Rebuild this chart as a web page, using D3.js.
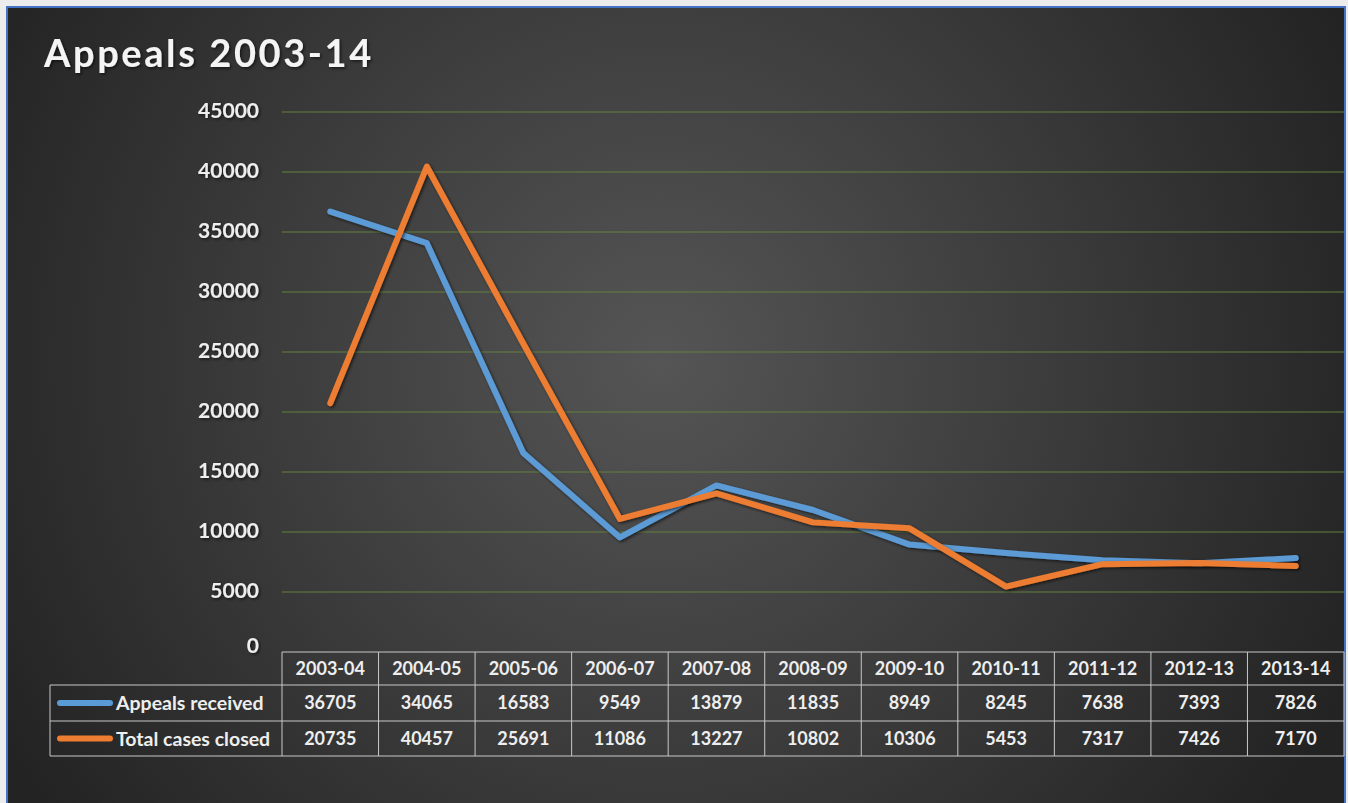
<!DOCTYPE html>
<html>
<head>
<meta charset="utf-8">
<script src="https://cdn.jsdelivr.net/npm/d3@7"></script>
<style>
  html, body { margin: 0; padding: 0; background: #ececec; }
  svg { display: block; }
</style>
</head>
<body>
<svg id="chart" width="1348" height="803"></svg>
<script>
const categories = ["2003-04","2004-05","2005-06","2006-07","2007-08","2008-09","2009-10","2010-11","2011-12","2012-13","2013-14"];
const appealsReceived = [36705,34065,16583,9549,13879,11835,8949,8245,7638,7393,7826];
const totalCasesClosed = [20735,40457,25691,11086,13227,10802,10306,5453,7317,7426,7170];
const yTicks = [0,5000,10000,15000,20000,25000,30000,35000,40000,45000];
const seriesNames = ["Appeals received","Total cases closed"];
const seriesColors = ["#5B9BD5","#ED7D31"];
const titleText = "Appeals 2003-14";

const series = [
  {name: seriesNames[0], values: appealsReceived, color: seriesColors[0]},
  {name: seriesNames[1], values: totalCasesClosed, color: seriesColors[1]}
];

const svg = d3.select("#chart");

const defs = svg.append("defs");
const grad = defs.append("radialGradient").attr("id","bg")
  .attr("gradientUnits","userSpaceOnUse")
  .attr("cx", 660).attr("cy", 360).attr("r", 760);
grad.append("stop").attr("offset","0%").attr("stop-color","#555555");
grad.append("stop").attr("offset","55%").attr("stop-color","#3a3a3a");
grad.append("stop").attr("offset","100%").attr("stop-color","#232323");

const shadow = defs.append("filter").attr("id","sh").attr("x","-10%").attr("y","-10%").attr("width","120%").attr("height","120%");
shadow.append("feDropShadow").attr("dx",1.5).attr("dy",1.5).attr("stdDeviation",1.5).attr("flood-color","#000").attr("flood-opacity",0.6);

// frame
svg.append("rect").attr("x",7).attr("y",7).attr("width",1338).attr("height",800)
  .attr("fill","url(#bg)").attr("stroke","#4472C4").attr("stroke-width",2);

// scales
const left = 282, right = 1344;
const x = d3.scaleBand().domain(categories).range([left, right]).padding(0);
const y = d3.scaleLinear().domain([0,45000]).range([652,112]);

// gridlines
svg.append("g").selectAll("line").data(yTicks.filter(d => d > 0)).join("line")
  .attr("x1", left).attr("x2", right)
  .attr("y1", d => y(d)).attr("y2", d => y(d))
  .attr("stroke","#62803f").attr("stroke-width",1);

// y axis labels
const yAxis = d3.axisLeft(y).tickValues(yTicks).tickSize(0).tickPadding(0).tickFormat(d3.format("d"));
const yg = svg.append("g").attr("transform","translate(259,0)").call(yAxis);
yg.select(".domain").remove();
yg.selectAll("text")
  .attr("fill","#eeeeee")
  .attr("font-family","Lato, 'Open Sans', sans-serif")
  .attr("font-weight","bold")
  .attr("font-size","21px")
  .attr("dy","0.25em")
  .attr("filter","url(#sh)");
yg.selectAll("text").filter(d => d === 0).attr("dy","0.0em");

// title
svg.append("text").attr("x",44).attr("y",67)
  .attr("fill","#f4f4f4")
  .attr("font-family","Lato, 'Open Sans', sans-serif")
  .attr("font-weight","bold")
  .attr("font-size","38px")
  .attr("letter-spacing","2.6px")
  .attr("filter","url(#sh)")
  .text(titleText);

// lines
const line = d3.line()
  .x((d,i) => x(categories[i]) + x.bandwidth()/2)
  .y(d => y(d));
svg.append("g").selectAll("path").data(series).join("path")
  .attr("d", d => line(d.values))
  .attr("fill","none")
  .attr("stroke", d => d.color)
  .attr("stroke-width",6)
  .attr("stroke-linejoin","round")
  .attr("stroke-linecap","round")
  .attr("filter","url(#sh)");

// data table
const rowTop = 652, rowH = [33, 36, 35];
const rows = [rowTop, rowTop + rowH[0], rowTop + rowH[0] + rowH[1], rowTop + rowH[0] + rowH[1] + rowH[2]];
const tableStroke = "#c8c8c8";
const tg = svg.append("g");
const legendLeft = 50;

tg.append("line").attr("x1",left).attr("x2",right).attr("y1",rows[0]).attr("y2",rows[0]).attr("stroke",tableStroke);
[1,2,3].forEach(i => tg.append("line").attr("x1",legendLeft).attr("x2",right).attr("y1",rows[i]).attr("y2",rows[i]).attr("stroke",tableStroke));
tg.append("line").attr("x1",legendLeft).attr("x2",legendLeft).attr("y1",rows[1]).attr("y2",rows[3]).attr("stroke",tableStroke);
categories.forEach(c => {
  tg.append("line").attr("x1",x(c)).attr("x2",x(c)).attr("y1",rows[0]).attr("y2",rows[3]).attr("stroke",tableStroke);
});
tg.append("line").attr("x1",right).attr("x2",right).attr("y1",rows[0]).attr("y2",rows[3]).attr("stroke",tableStroke);

const cellFont = "Lato, 'Open Sans', sans-serif";
tg.selectAll("text.hdr").data(categories).join("text").attr("class","hdr")
  .attr("x", d => x(d) + x.bandwidth()/2)
  .attr("y", (rows[0]+rows[1])/2)
  .attr("dy","0.36em")
  .attr("text-anchor","middle")
  .attr("fill","#eeeeee").attr("font-family",cellFont).attr("font-size","18px").attr("font-weight","bold")
  .text(d => d);

series.forEach((s, si) => {
  const cy = (rows[si+1] + rows[si+2]) / 2;
  tg.append("line").attr("x1",60).attr("x2",110).attr("y1",cy).attr("y2",cy)
    .attr("stroke",s.color).attr("stroke-width",6).attr("stroke-linecap","round");
  tg.append("text").attr("x",116).attr("y",cy).attr("dy","0.36em")
    .attr("fill","#eeeeee").attr("font-family",cellFont).attr("font-size","19.5px").attr("font-weight","bold")
    .text(s.name);
  tg.selectAll(null).data(s.values).join("text")
    .attr("x", (d,i) => x(categories[i]) + x.bandwidth()/2)
    .attr("y", cy).attr("dy","0.36em")
    .attr("text-anchor","middle")
    .attr("fill","#eeeeee").attr("font-family",cellFont).attr("font-size","18px").attr("font-weight","bold")
    .text(d => d);
});
</script>
</body>
</html>
